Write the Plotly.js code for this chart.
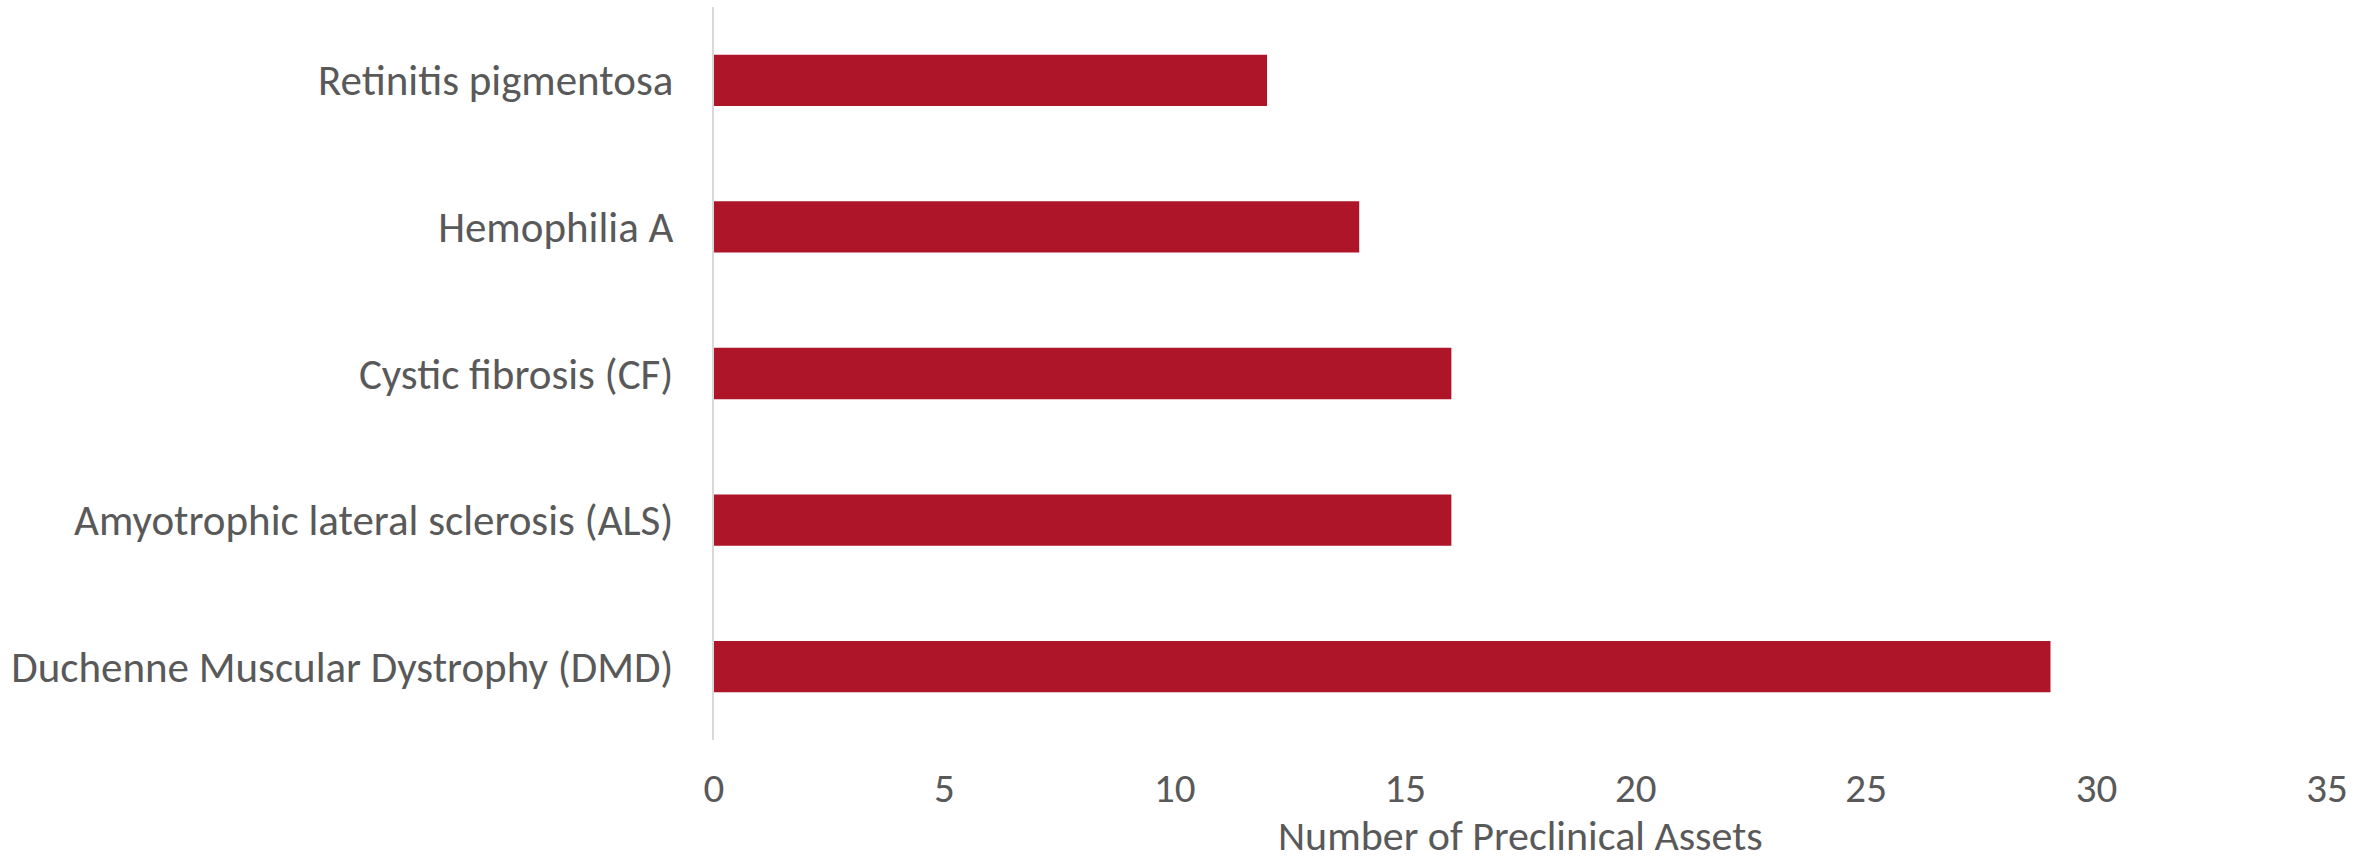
<!DOCTYPE html>
<html>
<head>
<meta charset="utf-8">
<script src="https://cdn.plot.ly/plotly-3.0.1.min.js"></script>
<style>html,body{margin:0;padding:0;background:#fff;}#chart{width:2372px;height:862px;}</style>
</head>
<body>
<div id="chart"></div>
<script>
const categories = [
  "Duchenne Muscular Dystrophy (DMD)",
  "Amyotrophic lateral sclerosis (ALS)",
  "Cystic fibrosis (CF)",
  "Hemophilia A",
  "Retinitis pigmentosa"
];
const assets = [29, 16, 16, 14, 12];
const xTicks = [0, 5, 10, 15, 20, 25, 30, 35];
const xTitle = "Number of Preclinical Assets";

const fontFam = "Carlito, Lato, 'Liberation Sans', sans-serif";
const textColor = "#595959";
const fs = 43;

Plotly.newPlot("chart", [{
  type: "bar",
  orientation: "h",
  y: categories,
  x: assets,
  marker: {color: "#AE1529"},
  hoverinfo: "x+y"
}], {
  width: 2372,
  height: 862,
  margin: {l: 714, r: 45, t: 7, b: 122},
  paper_bgcolor: "#ffffff",
  plot_bgcolor: "#ffffff",
  bargap: 0.65,
  font: {family: fontFam, color: textColor, size: fs},
  xaxis: {
    range: [0, 35],
    tickvals: xTicks,
    ticktext: xTicks.map(String),
    showgrid: false,
    zeroline: false,
    showline: false,
    ticks: "",
    ticklabelstandoff: 20,
    tickfont: {size: 41, color: textColor, family: fontFam}
  },
  yaxis: {
    type: "category",
    range: [-0.5, 4.5],
    showgrid: false,
    zeroline: false,
    showline: true,
    linecolor: "#D9D9D9",
    linewidth: 2,
    ticks: "",
    ticklabelstandoff: 30,
    tickfont: {size: fs, color: textColor, family: fontFam}
  },
  annotations: [{
    text: xTitle,
    xref: "paper", yref: "paper",
    x: 0.5, y: 0,
    xanchor: "center", yanchor: "bottom",
    yshift: -122,
    borderpad: 0,
    showarrow: false,
    font: {size: 42, color: textColor, family: fontFam}
  }],
  showlegend: false
}, {displayModeBar: false, staticPlot: true});
</script>
</body>
</html>
